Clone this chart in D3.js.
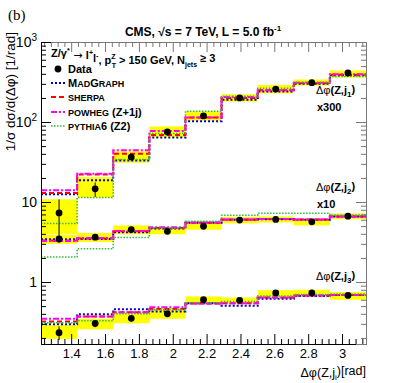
<!DOCTYPE html>
<html>
<head>
<meta charset="utf-8">
<script src="https://cdn.jsdelivr.net/npm/d3@7/dist/d3.min.js"></script>
<style>
  body { margin: 0; background: #fff; }
  text { font-family: "Liberation Sans", Arial, sans-serif; }
</style>
</head>
<body>
<div id="chart"></div>
<script>
// bin edges in delta phi (rad), 9 bins from 70 deg to 180 deg
const binEdges = [1.2217, 1.4350, 1.6483, 1.8617, 2.0750, 2.2883, 2.5017, 2.7150, 2.9283, 3.1416];

// leading jet, scaled x300
const j1Data   = [7.3, 14.6, 36.5, 75, 119, 200, 258, 310, 410];
const j1Err    = [3.5, 3.0, 3, 5, 7, 10, 14, 15, 20];
const j1BandLo = [4.0, 11.4, 31, 64, 104, 180, 228, 285, 360];
const j1BandHi = [10.8, 20.5, 43, 88, 136, 222, 290, 340, 440];
const j1MG     = [12.5, 18.7, 33, 64, 102, 190, 240, 300, 385];
const j1Sherpa = [13.0, 22, 40, 69, 114, 200, 250, 305, 390];
const j1Powheg = [14.0, 22.6, 44.5, 77, 114, 205, 250, 310, 395];
const j1Pythia = [5.4, 11.4, 34, 72, 136, 210, 265, 315, 370];

// second jet, scaled x10
const j2Data   = [3.45, 3.63, 4.52, 4.3, 4.98, 5.94, 6.05, 5.65, 6.65];
const j2Err    = [0.35, 0.25, 0.25, 0.25, 0.25, 0.25, 0.3, 0.3, 0.35];
const j2BandLo = [3.0, 3.17, 3.95, 3.95, 4.5, 5.4, 5.55, 5.1, 6.1];
const j2BandHi = [3.9, 4.1, 5.1, 4.8, 5.55, 6.5, 6.6, 6.2, 7.2];
const j2MG     = [3.42, 3.45, 4.18, 4.66, 5.5, 6.0, 6.1, 6.0, 6.6];
const j2Sherpa = [3.3, 3.5, 4.3, 4.75, 5.5, 6.05, 6.15, 6.05, 6.6];
const j2Powheg = [3.25, 3.55, 4.35, 4.85, 5.55, 6.05, 6.15, 6.05, 6.6];
const j2Pythia = [2.05, 2.6, 3.6, 4.74, 5.75, 6.85, 7.25, 7.25, 6.9];

// third jet, x1
const j3Data   = [0.233, 0.303, 0.352, 0.40, 0.60, 0.59, 0.73, 0.73, 0.68];
const j3Err    = [0.045, 0.03, 0.03, 0.03, 0.04, 0.04, 0.04, 0.04, 0.04];
const j3BandLo = [0.195, 0.257, 0.305, 0.347, 0.54, 0.54, 0.65, 0.66, 0.60];
const j3BandHi = [0.29, 0.347, 0.407, 0.47, 0.66, 0.64, 0.79, 0.80, 0.75];
const j3MG     = [0.296, 0.396, 0.457, 0.428, 0.544, 0.505, 0.62, 0.67, 0.69];
const j3Sherpa = [0.32, 0.37, 0.42, 0.46, 0.54, 0.544, 0.64, 0.68, 0.69];
const j3Powheg = [0.347, 0.37, 0.42, 0.485, 0.54, 0.544, 0.64, 0.68, 0.69];
const j3Pythia = [0.31, 0.327, 0.40, 0.45, 0.55, 0.57, 0.67, 0.70, 0.71];

const xTicks = [1.4, 1.6, 1.8, 2.0, 2.2, 2.4, 2.6, 2.8, 3.0];
const yTicks = [1, 10, 100, 1000];

const groups = [
  { data: j1Data, err: j1Err, lo: j1BandLo, hi: j1BandHi, mc: [j1MG, j1Sherpa, j1Powheg, j1Pythia] },
  { data: j2Data, err: j2Err, lo: j2BandLo, hi: j2BandHi, mc: [j2MG, j2Sherpa, j2Powheg, j2Pythia] },
  { data: j3Data, err: j3Err, lo: j3BandLo, hi: j3BandHi, mc: [j3MG, j3Sherpa, j3Powheg, j3Pythia] }
];

const mcStyles = [
  { color: "#0000cc", dash: "2,2", width: 2 },
  { color: "#ff0000", dash: "5,3", width: 2 },
  { color: "#ff00ff", dash: "6,2,2,2", width: 2 },
  { color: "#33bb33", dash: "1.5,1.5", width: 1.5 }
];

const W = 407, H = 383;
const L = 41, R = 366, T = 42, B = 344;

const svg = d3.select("#chart").append("svg").attr("width", W).attr("height", H);

const x = d3.scaleLinear().domain([binEdges[0], binEdges[9]]).range([L, R]);
const y = d3.scaleLog().domain([0.168, 1000]).range([B, T]);

// yellow bands
groups.forEach(g => {
  svg.append("g").selectAll("rect").data(g.data).enter().append("rect")
    .attr("x", (d, i) => x(binEdges[i]))
    .attr("width", (d, i) => x(binEdges[i + 1]) - x(binEdges[i]))
    .attr("y", (d, i) => y(g.hi[i]))
    .attr("height", (d, i) => y(g.lo[i]) - y(g.hi[i]))
    .attr("fill", "#ffff00");
});

// MC step lines
const step = d3.line().x(d => x(d[0])).y(d => y(d[1])).curve(d3.curveStepAfter);
groups.forEach(g => {
  g.mc.forEach((vals, k) => {
    let pts = vals.map((v, i) => [binEdges[i], v]);
    pts.push([binEdges[9], vals[vals.length - 1]]);
    svg.append("path").attr("d", step(pts))
      .attr("fill", "none")
      .attr("stroke", mcStyles[k].color)
      .attr("stroke-width", mcStyles[k].width)
      .attr("stroke-dasharray", mcStyles[k].dash);
  });
});

// data points
groups.forEach(g => {
  let gg = svg.append("g");
  g.data.forEach((v, i) => {
    let cx = x((binEdges[i] + binEdges[i + 1]) / 2);
    gg.append("line").attr("x1", cx).attr("x2", cx)
      .attr("y1", y(v + g.err[i])).attr("y2", y(Math.max(v - g.err[i], 0.17)))
      .attr("stroke", "#000").attr("stroke-width", 1);
    gg.append("circle").attr("cx", cx).attr("cy", y(v)).attr("r", 3.4).attr("fill", "#000");
  });
});

// axes, ROOT style inward ticks
const xMinor = d3.range(1.24, 3.14, 0.04).filter(t => !xTicks.some(m => Math.abs(m - t) < 1e-6));
const yMinor = [];
[0.1, 1, 10, 100].forEach(dec => d3.range(2, 10).forEach(k => { if (dec * k > 0.168) yMinor.push(dec * k); }));

function styleAxis(sel, color) {
  sel.select(".domain").attr("stroke", color);
  sel.selectAll(".tick line").attr("stroke", color);
}

let ax = svg.append("g").attr("transform", `translate(0,${B})`)
  .call(d3.axisBottom(x).tickValues(xTicks).tickSize(-10).tickPadding(5).tickFormat(d3.format("")));
ax.selectAll("text").attr("font-size", 13).attr("fill", "#000");
styleAxis(ax, "#000");
let axm = svg.append("g").attr("transform", `translate(0,${B})`)
  .call(d3.axisBottom(x).tickValues(xMinor).tickSize(-5).tickFormat(""));
styleAxis(axm, "#000");
axm.select(".domain").remove();

let at = svg.append("g").attr("transform", `translate(0,${T})`)
  .call(d3.axisTop(x).tickValues(xTicks).tickSize(-10).tickFormat(""));
styleAxis(at, "#777");
let atm = svg.append("g").attr("transform", `translate(0,${T})`)
  .call(d3.axisTop(x).tickValues(xMinor).tickSize(-5).tickFormat(""));
styleAxis(atm, "#777");
atm.select(".domain").remove();

let ay = svg.append("g").attr("transform", `translate(${L},0)`)
  .call(d3.axisLeft(y).tickValues(yTicks).tickSize(-10).tickPadding(4).tickFormat(d => d));
styleAxis(ay, "#000");
ay.selectAll("text").attr("font-size", 14).attr("fill", "#000").each(function (d) {
  let t = d3.select(this).text("");
  if (d >= 100) {
    t.append("tspan").text("10");
    t.append("tspan").attr("font-size", 10).attr("dy", "-0.6em").text(d === 100 ? "2" : "3");
  } else {
    t.text(d);
  }
});
let aym = svg.append("g").attr("transform", `translate(${L},0)`)
  .call(d3.axisLeft(y).tickValues(yMinor).tickSize(-5).tickFormat(""));
styleAxis(aym, "#000");
aym.select(".domain").remove();

let ar = svg.append("g").attr("transform", `translate(${R},0)`)
  .call(d3.axisRight(y).tickValues(yTicks).tickSize(-10).tickFormat(""));
styleAxis(ar, "#777");
let arm = svg.append("g").attr("transform", `translate(${R},0)`)
  .call(d3.axisRight(y).tickValues(yMinor).tickSize(-5).tickFormat(""));
styleAxis(arm, "#777");
arm.select(".domain").remove();

// titles
svg.append("text").attr("x", 8).attr("y", 20)
  .style("font-family", "'Liberation Serif', 'DejaVu Serif', serif")
  .attr("font-size", 15).text("(b)");

let title = svg.append("text").attr("x", 203).attr("y", 36).attr("text-anchor", "middle")
  .attr("font-size", 12).attr("font-weight", "bold");
title.append("tspan").text("CMS, \u221As = 7 TeV, L = 5.0 fb");
title.append("tspan").attr("font-size", 8).attr("dy", "-0.6em").text("-1");

let yl = svg.append("text").attr("transform", "translate(15,32) rotate(-90)")
  .attr("text-anchor", "end").attr("font-size", 13.5);
yl.text("1/\u03c3 d\u03c3/d(\u0394\u03c6) [1/rad]");

let xl = svg.append("text").attr("x", R).attr("y", 377).attr("text-anchor", "end").attr("font-size", 12.5);
xl.append("tspan").text("\u0394\u03c6(Z,j");
xl.append("tspan").attr("font-size", 8).attr("dy", "0.35em").text("i");
xl.append("tspan").attr("dy", "-0.35em").text(")[rad]");

// legend
let hd = svg.append("text").attr("x", 51).attr("y", 57).attr("font-size", 11).attr("font-weight", "bold");
hd.append("tspan").text("Z/\u03b3");
hd.append("tspan").attr("font-size", 7).attr("dy", "-0.6em").text("*");
hd.append("tspan").attr("dy", "0.6em").style("font-family", "'DejaVu Sans', sans-serif").attr("font-weight", "normal").text(" \u2192 ");
hd.append("tspan").text("l");
hd.append("tspan").attr("font-size", 7).attr("dy", "-0.6em").text("+");
hd.append("tspan").attr("dy", "0.6em").text("l");
hd.append("tspan").attr("font-size", 7).attr("dy", "-0.6em").text("-");
hd.append("tspan").attr("dy", "0.6em").text(", p");
hd.append("tspan").attr("font-size", 7).attr("dy", "-0.7em").text("Z");
hd.append("tspan").attr("font-size", 7).attr("dx", "-0.55em").attr("dy", "1.2em").text("T");
hd.append("tspan").attr("dy", "-0.35em").text(" > 150 GeV, N");
hd.append("tspan").attr("font-size", 7).attr("dy", "0.4em").text("jets");
hd.append("tspan").attr("dy", "-0.4em").text(" \u2265 3");

const legendRows = [
  { y: 69, parts: [["Data", 11]] },
  { y: 83, style: 0, parts: [["M", 11], ["AD", 9], ["G", 11], ["RAPH", 9]] },
  { y: 97, style: 1, parts: [["SHERPA", 9]] },
  { y: 112, style: 2, parts: [["POWHEG", 9], [" (Z+1j)", 11]] },
  { y: 126, style: 3, parts: [["PYTHIA", 9], ["6 (Z2)", 11]] }
];
legendRows.forEach(r => {
  if (r.style === undefined) {
    svg.append("circle").attr("cx", 58).attr("cy", r.y).attr("r", 3.4).attr("fill", "#000");
  } else {
    let s = mcStyles[r.style];
    svg.append("line").attr("x1", 51).attr("x2", 65).attr("y1", r.y).attr("y2", r.y)
      .attr("stroke", s.color).attr("stroke-width", s.width).attr("stroke-dasharray", s.dash);
  }
  let t = svg.append("text").attr("x", 68).attr("y", r.y + 4).attr("font-weight", "bold");
  r.parts.forEach(p => t.append("tspan").attr("font-size", p[1]).text(p[0]));
});

// curve annotations
const notes = [
  { y: 94, sub: "1", scale: "x300" },
  { y: 191, sub: "2", scale: "x10" },
  { y: 280, sub: "3", scale: null }
];
notes.forEach(n => {
  let t = svg.append("text").attr("x", 316).attr("y", n.y).attr("font-size", 11).attr("font-weight", "bold");
  t.append("tspan").attr("font-weight", "normal").text("\u0394\u03c6");
  t.append("tspan").text("(Z,j");
  t.append("tspan").attr("font-size", 8).attr("dy", "0.35em").text(n.sub);
  t.append("tspan").attr("dy", "-0.35em").text(")");
  if (n.scale) {
    svg.append("text").attr("x", 317).attr("y", n.y + 17).attr("font-size", 11)
      .attr("font-weight", "bold").text(n.scale);
  }
});
</script>
</body>
</html>
